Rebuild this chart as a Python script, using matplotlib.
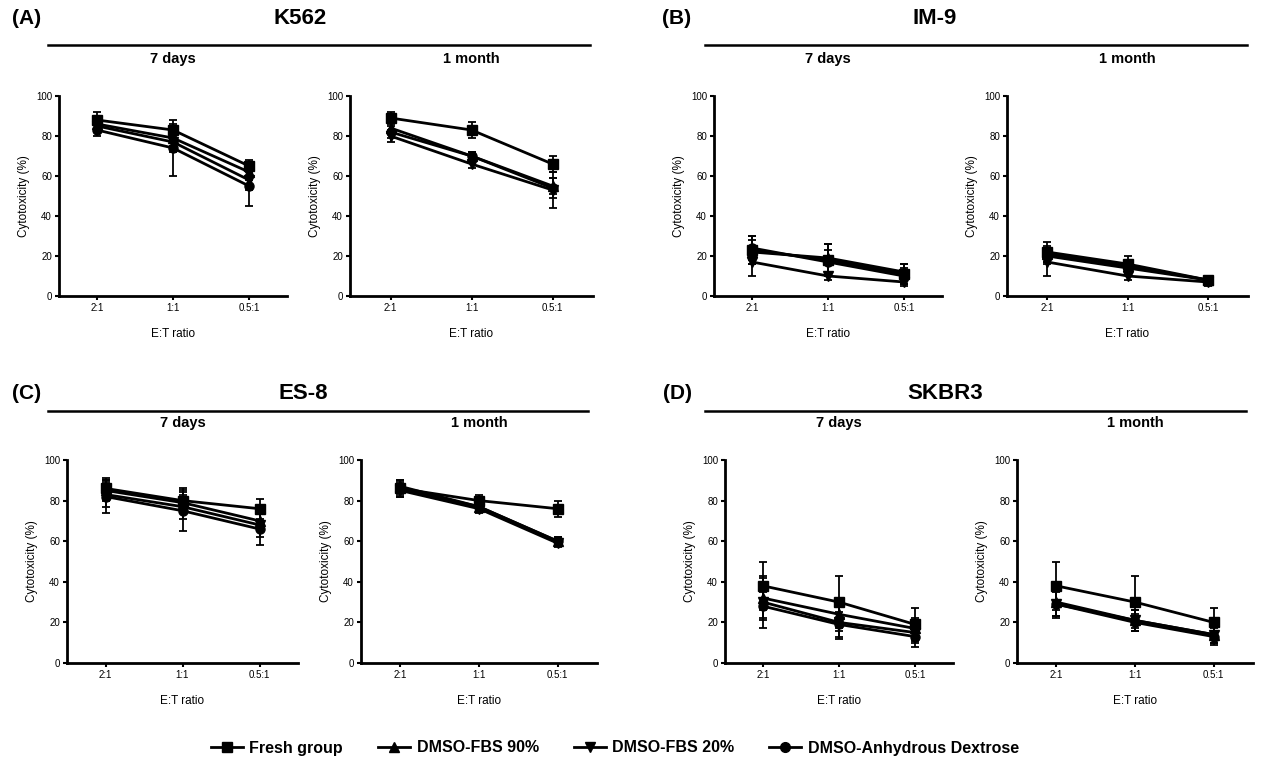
import numpy as np
import matplotlib
matplotlib.use('Agg')
import matplotlib.pyplot as plt
from matplotlib.lines import Line2D

plt.rcParams['font.family'] = ['Liberation Sans', 'DejaVu Sans']

W, H = 1262, 764

ratios = ['2:1', '1:1', '0.5:1']
groups = ['Fresh group', 'DMSO-FBS 90%', 'DMSO-FBS 20%', 'DMSO-Anhydrous Dextrose']
markers = ['s', '^', 'v', 'o']

# mean cytotoxicity (%) per group, order: fresh, FBS 90%, FBS 20%, dextrose
k562_7d = [[88, 83, 65], [86, 79, 62], [85, 77, 58], [83, 74, 55]]
k562_7d_err = [[4, 3, 3], [3, 4, 4], [3, 5, 5], [3, 14, 10]]
k562_1m = [[89, 83, 66], [84, 70, 55], [80, 66, 53], [82, 70, 54]]
k562_1m_err = [[3, 4, 4], [3, 2, 4], [3, 2, 9], [3, 2, 5]]

im9_7d = [[23, 18, 11], [22, 19, 12], [17, 10, 7], [24, 17, 10]]
im9_7d_err = [[7, 8, 5], [6, 7, 4], [7, 2, 2], [6, 6, 4]]
im9_1m = [[22, 16, 8], [21, 15, 8], [17, 10, 7], [20, 14, 8]]
im9_1m_err = [[5, 4, 2], [4, 3, 2], [7, 2, 2], [4, 3, 2]]

es8_7d = [[86, 80, 76], [85, 79, 70], [83, 77, 68], [82, 75, 66]]
es8_7d_err = [[5, 6, 5], [5, 5, 5], [6, 6, 6], [8, 10, 8]]
es8_1m = [[86, 80, 76], [87, 77, 60], [85, 76, 59], [86, 77, 60]]
es8_1m_err = [[4, 3, 4], [3, 2, 2], [3, 2, 2], [3, 2, 2]]

skbr3_7d = [[38, 30, 19], [32, 24, 17], [30, 20, 15], [28, 19, 13]]
skbr3_7d_err = [[12, 13, 8], [10, 8, 5], [13, 8, 5], [7, 6, 5]]
skbr3_1m = [[38, 30, 20], [30, 21, 14], [29, 21, 14], [29, 20, 13]]
skbr3_1m_err = [[12, 13, 7], [7, 5, 4], [7, 5, 4], [6, 4, 4]]

fig = plt.figure(figsize=(W / 100, H / 100), dpi=100)


def box(x0, y0, x1, y1):
    return [x0 / W, 1 - y1 / H, (x1 - x0) / W, (y1 - y0) / H]


def draw(rect, data, err, sub):
    ax = fig.add_axes(box(*rect))
    x = np.arange(len(ratios))
    for vals, e, m in zip(data, err, markers):
        ax.errorbar(x, vals, yerr=e, color='black', lw=2, marker=m, ms=6.5,
                    capsize=3, elinewidth=1.3, capthick=1.3)
    ax.set_xlim(-0.5, 2.5)
    ax.set_ylim(0, 100)
    ax.set_yticks(range(0, 101, 20))
    ax.set_xticks(x)
    ax.set_xticklabels(ratios)
    ax.spines['top'].set_visible(False)
    ax.spines['right'].set_visible(False)
    for s in ['left', 'bottom']:
        ax.spines[s].set_linewidth(2)
    ax.tick_params(width=1.5, length=3, labelsize=7, pad=2)
    ax.set_ylabel('Cytotoxicity (%)', fontsize=8.5, labelpad=4)
    ax.set_xlabel('E:T ratio', fontsize=8.5, labelpad=11)
    ax.set_title(sub, fontsize=10.5, fontweight='bold', pad=24)
    return ax


draw((59, 96, 287, 296), k562_7d, k562_7d_err, '7 days')
draw((350, 96, 593, 296), k562_1m, k562_1m_err, '1 month')
draw((714, 96, 942, 296), im9_7d, im9_7d_err, '7 days')
draw((1007, 96, 1248, 296), im9_1m, im9_1m_err, '1 month')
draw((67, 460, 298, 663), es8_7d, es8_7d_err, '7 days')
draw((361, 460, 597, 663), es8_1m, es8_1m_err, '1 month')
draw((725, 460, 953, 663), skbr3_7d, skbr3_7d_err, '7 days')
draw((1017, 460, 1253, 663), skbr3_1m, skbr3_1m_err, '1 month')

# panel headers: letter, cell line name and rule
headers = [('(A)', 'K562', 27, 300, 19, 48, 590, 45),
           ('(B)', 'IM-9', 677, 935, 19, 705, 1247, 45),
           ('(C)', 'ES-8', 27, 303, 394, 48, 588, 411),
           ('(D)', 'SKBR3', 677, 945, 394, 705, 1246, 411)]
for letter, name, lx, nx, ty, x0, x1, ly in headers:
    fig.text(lx / W, 1 - ty / H, letter, fontsize=15, fontweight='bold',
             ha='center', va='center')
    fig.text(nx / W, 1 - ty / H, name, fontsize=16, fontweight='bold',
             ha='center', va='center')
    fig.add_artist(Line2D([x0 / W, x1 / W], [1 - ly / H, 1 - ly / H],
                          color='black', lw=1.8))

handles = [Line2D([], [], color='black', lw=2, marker=m, ms=7) for m in markers]
fig.legend(handles, groups, loc='center', bbox_to_anchor=(615 / W, 1 - 748 / H),
           ncol=4, frameon=False, handlelength=2.0,
           handletextpad=0.4, columnspacing=2.2, prop={'weight': 'bold', 'size': 11.5})

fig.savefig('out.png', dpi=100)
